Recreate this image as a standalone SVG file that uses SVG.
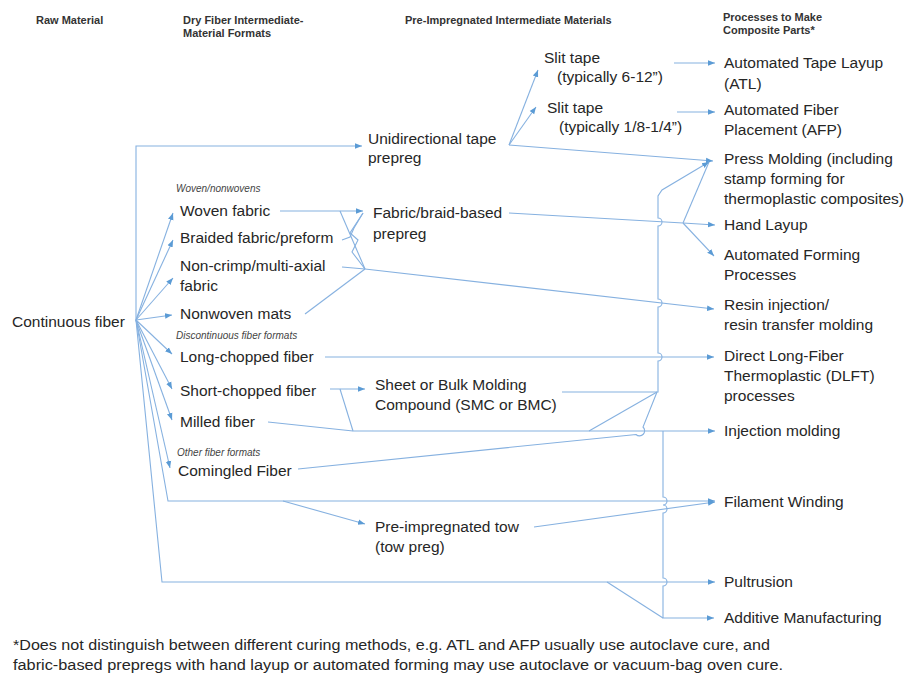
<svg xmlns="http://www.w3.org/2000/svg" width="912" height="678" viewBox="0 0 912 678">
<defs>
<marker id="ah" viewBox="0 0 10 10" refX="10" refY="5" markerWidth="7" markerHeight="7" markerUnits="userSpaceOnUse" orient="auto"><path d="M0,1 L10,5 L0,9 z" fill="#5B9BD5"/></marker>
<style>
text{font-family:"Liberation Sans",Arial,sans-serif;fill:#262626}
.n{font-size:15.5px}
.h{font-size:11px;font-weight:bold;fill:#333}
.s{font-size:10px;font-style:italic;fill:#444}
.f{font-size:14px}
.c path,.c line,.c polyline{fill:none;stroke:#86B1E0;stroke-width:1.1}
.a{marker-end:url(#ah)}
</style>
</defs>
<rect width="912" height="678" fill="#fff"/>

<g id="headers">
<text class="h" x="36" y="24">Raw Material</text>
<text class="h" x="183" y="24">Dry Fiber Intermediate-</text>
<text class="h" x="183" y="37">Material Formats</text>
<text class="h" x="405" y="24">Pre-Impregnated Intermediate Materials</text>
<text class="h" x="723" y="21">Processes to Make</text>
<text class="h" x="723" y="34">Composite Parts*</text>
</g>

<g id="continuous-fiber"><text class="n" x="12" y="327">Continuous fiber</text></g>

<g id="sub-woven"><text class="s" x="176" y="192">Woven/nonwovens</text></g>
<g id="woven-fabric"><text class="n" x="180" y="216">Woven fabric</text></g>
<g id="braided"><text class="n" x="180" y="243">Braided fabric/preform</text></g>
<g id="non-crimp"><text class="n" x="180" y="271">Non-crimp/multi-axial</text><text class="n" x="180" y="291">fabric</text></g>
<g id="nonwoven"><text class="n" x="180" y="319">Nonwoven mats</text></g>
<g id="sub-discontinuous"><text class="s" x="176" y="339">Discontinuous fiber formats</text></g>
<g id="long-chopped"><text class="n" x="180" y="362">Long-chopped fiber</text></g>
<g id="short-chopped"><text class="n" x="180" y="396">Short-chopped fiber</text></g>
<g id="milled"><text class="n" x="180" y="427">Milled fiber</text></g>
<g id="sub-other"><text class="s" x="177" y="456">Other fiber formats</text></g>
<g id="comingled"><text class="n" x="178" y="476">Comingled Fiber</text></g>

<g id="ud-prepreg"><text class="n" x="368" y="144">Unidirectional tape</text><text class="n" x="368" y="163">prepreg</text></g>
<g id="fabric-prepreg"><text class="n" x="373" y="218">Fabric/braid-based</text><text class="n" x="373" y="239">prepreg</text></g>
<g id="smc"><text class="n" x="375" y="390">Sheet or Bulk Molding</text><text class="n" x="375" y="410">Compound (SMC or BMC)</text></g>
<g id="tow-preg"><text class="n" x="375" y="532">Pre-impregnated tow</text><text class="n" x="375" y="552">(tow preg)</text></g>
<g id="slit1"><text class="n" x="544" y="63">Slit tape</text><text class="n" x="557" y="82">(typically 6-12”)</text></g>
<g id="slit2"><text class="n" x="547" y="113">Slit tape</text><text class="n" x="559" y="132">(typically 1/8-1/4”)</text></g>

<g id="atl"><text class="n" x="724" y="68">Automated Tape Layup</text><text class="n" x="724" y="89">(ATL)</text></g>
<g id="afp"><text class="n" x="724" y="115">Automated Fiber</text><text class="n" x="724" y="135">Placement (AFP)</text></g>
<g id="press"><text class="n" x="724" y="164">Press Molding (including</text><text class="n" x="724" y="184">stamp forming for</text><text class="n" x="724" y="204">thermoplastic composites)</text></g>
<g id="hand"><text class="n" x="724" y="230">Hand Layup</text></g>
<g id="auto-forming"><text class="n" x="724" y="260">Automated Forming</text><text class="n" x="724" y="280">Processes</text></g>
<g id="rtm"><text class="n" x="724" y="310">Resin injection/</text><text class="n" x="724" y="330">resin transfer molding</text></g>
<g id="dlft"><text class="n" x="724" y="361">Direct Long-Fiber</text><text class="n" x="724" y="381">Thermoplastic (DLFT)</text><text class="n" x="724" y="401">processes</text></g>
<g id="injection"><text class="n" x="724" y="436">Injection molding</text></g>
<g id="filament"><text class="n" x="724" y="507">Filament Winding</text></g>
<g id="pultrusion"><text class="n" x="724" y="587">Pultrusion</text></g>
<g id="additive"><text class="n" x="724" y="623">Additive Manufacturing</text></g>

<g id="footnote">
<text class="f" x="13" y="650" textLength="757" lengthAdjust="spacingAndGlyphs">*Does not distinguish between different curing methods, e.g. ATL and AFP usually use autoclave cure, and</text>
<text class="f" x="13" y="670" textLength="770" lengthAdjust="spacingAndGlyphs">fabric-based prepregs with hand layup or automated forming may use autoclave or vacuum-bag oven cure.</text>
</g>

<g id="connectors" class="c">
<polyline class="a" points="136,320 136,146 362,146"/>
<line class="a" x1="136" y1="320" x2="173" y2="213"/>
<line class="a" x1="136" y1="320" x2="173" y2="240"/>
<line class="a" x1="136" y1="320" x2="173" y2="278"/>
<line class="a" x1="136" y1="320" x2="172" y2="315"/>
<line class="a" x1="136" y1="320" x2="172" y2="354"/>
<line class="a" x1="136" y1="320" x2="172" y2="389"/>
<line class="a" x1="136" y1="320" x2="172" y2="420"/>
<line class="a" x1="136" y1="320" x2="170" y2="468"/>
<polyline class="a" points="136,320 168,501 715,501"/>
<polyline class="a" points="136,320 162,582 715,582"/>
<line class="a" x1="283" y1="501" x2="365" y2="524"/>
<line class="a" x1="509" y1="145" x2="538" y2="70"/>
<line class="a" x1="509" y1="145" x2="536" y2="107"/>
<line class="a" x1="509" y1="145" x2="713" y2="161"/>
<line class="a" x1="674" y1="63" x2="715" y2="63"/>
<line class="a" x1="677" y1="112" x2="715" y2="112"/>
<line class="a" x1="280" y1="211" x2="363" y2="211"/>
<line x1="340" y1="211" x2="365" y2="269"/>
<polyline points="342,240 350,237 354,228 363,213"/>
<polyline points="365,269 352,252 358,240 350,233 363,213"/>
<line x1="342" y1="267" x2="365" y2="269"/>
<line x1="305" y1="314" x2="365" y2="269"/>
<line class="a" x1="365" y1="269" x2="714" y2="309"/>
<line x1="509" y1="213" x2="683" y2="223"/>
<line class="a" x1="683" y1="223" x2="715" y2="225"/>
<line class="a" x1="683" y1="223" x2="714" y2="256"/>
<line x1="683" y1="223" x2="709" y2="162"/>
<line class="a" x1="325" y1="357" x2="714" y2="357"/>
<line class="a" x1="330" y1="389" x2="365" y2="389"/>
<line x1="340" y1="389" x2="353" y2="431"/>
<polyline class="a" points="268,422 353,431 715,431"/>
<line x1="589" y1="431" x2="657" y2="392"/>
<path d="M298,469 L636,434.5 A4,4 0 0 0 643,427 L657,392"/>
<path class="a" d="M562,392 L658,392 L658,361 A4,4 0 0 0 658,353 L658,307 A4,4 0 0 0 658,299 L658,226 A4,4 0 0 0 658,218 L658,196 L662,190 L709,162"/>
<line class="a" x1="534" y1="527" x2="715" y2="502"/>
<path class="a" d="M663,431 L663,497 A4,4 0 0 1 663,505 A4,4 0 0 1 663,513 L663,578 A4,4 0 0 1 663,586 L663,618 L714,618"/>
<line x1="607" y1="582" x2="663" y2="618"/>
</g>
</svg>
